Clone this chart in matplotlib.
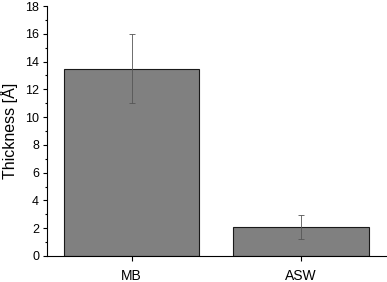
import numpy as np
import matplotlib.pyplot as plt
from matplotlib.ticker import MultipleLocator

plt.rcParams['font.family'] = ['Liberation Sans', 'DejaVu Sans']

samples = ['MB', 'ASW']
thickness = [13.5, 2.07]
errors = [2.45, 0.88]

fig = plt.figure(figsize=(3.87, 2.82), dpi=100)
ax = fig.add_axes([0.1214, 0.0922, 0.8756, 0.8865])

x = np.arange(1, len(samples) + 1)
ax.bar(x, thickness, width=0.8, color='#808080', edgecolor='#1a1a1a', linewidth=0.8)
ax.errorbar(x, thickness, yerr=errors, fmt='none', ecolor='#555555',
            elinewidth=0.6, capsize=2.5, capthick=0.6)

ax.set_xlim(0.5, 2.5)
ax.set_ylim(0, 18)
ax.set_xticks(x)
ax.set_xticklabels(samples, fontsize=10)
ax.yaxis.set_major_locator(MultipleLocator(2))
ax.yaxis.set_minor_locator(MultipleLocator(1))
ax.tick_params(axis='y', labelsize=9, direction='out', length=3.2, width=0.8, pad=2.5)
ax.tick_params(axis='y', which='minor', length=1.8, width=0.8)
ax.tick_params(axis='x', direction='out', length=3.6, width=0.8, pad=5.5)
ax.set_ylabel('Thickness [Å]', fontsize=11.5)
ax.yaxis.set_label_coords(-0.087, 0.5)

ax.spines['top'].set_visible(False)
ax.spines['right'].set_visible(False)

plt.savefig('out.png', dpi=100)
